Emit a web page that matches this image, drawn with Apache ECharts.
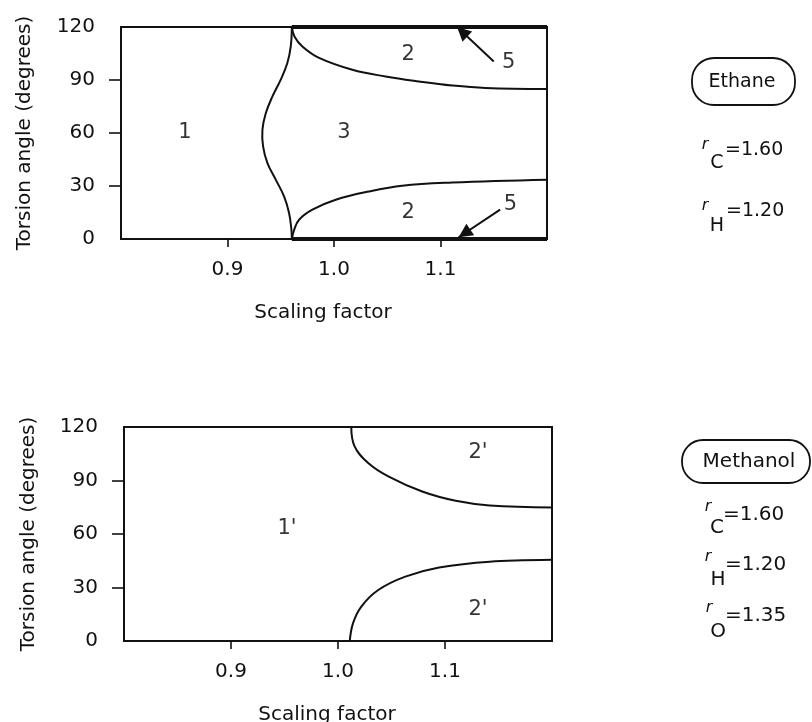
<!DOCTYPE html>
<html><head><meta charset="utf-8">
<script src="https://cdn.jsdelivr.net/npm/echarts@6/dist/echarts.min.js"></script>
<style>html,body{margin:0;padding:0;background:#fff}#c{width:812px;height:722px}</style>
</head><body><div id="c"></div>
<script>
// ---- axes ----
const xTickValues = [0.9, 1.0, 1.1];
const yLabelValues = [0, 30, 60, 90, 120];
const yTickValues = [30, 60, 90];

// ---- Ethane (top panel) ----
const ethaneBoundary13 = [[0.9604,120],[0.9594,109],[0.9562,99.6],[0.950,90.2],[0.9422,80.7],[0.936,71.3],[0.9328,61.9],[0.9334,52.4],[0.9375,43],[0.9453,33.6],[0.9531,24.1],[0.9578,14.7],[0.960,5.3],[0.9604,0]];
const ethaneUpper23 = [[0.9604,120],[0.963,114.5],[0.9703,109],[0.986,102.5],[1.0172,95.8],[1.0484,92],[1.0797,89.2],[1.1109,86.9],[1.1422,85.5],[1.2,84.9]];
const ethaneLower23 = [[0.9604,0],[0.9625,5],[0.9672,10.9],[0.9797,16.6],[1.0016,22.2],[1.0328,26.9],[1.064,30.2],[1.1109,32],[1.2,33.6]];
const ethaneRegion5Top = [[0.9604,120],[1.2,120]];
const ethaneRegion5Bottom = [[0.9604,0],[1.2,0]];
const ethaneArrowTop = [[1.150,100.5],[1.1156,120]];
const ethaneArrowBottom = [[1.156,16.6],[1.117,1]];
const ethaneRegionNames = ['1','3','2','2','5','5'];
const ethaneRegionX = [0.86,1.0094,1.0697,1.0697,1.164,1.1656];
const ethaneRegionY = [60.5,60,104.3,14.7,99.6,19.4];

// ---- Methanol (bottom panel) ----
const methanolUpper = [[1.0124,120],[1.0155,109.1],[1.0282,99.8],[1.047,92.3],[1.0787,83.8],[1.110,78.6],[1.1418,76],[1.2,74.9]];
const methanolLower = [[1.011,0],[1.014,9.9],[1.0218,19.3],[1.0376,28.6],[1.0629,36.1],[1.0945,41.2],[1.1418,44.5],[1.2,45.5]];
const methanolRegionNames = ["1'","2'","2'"];
const methanolRegionX = [0.9524,1.1308,1.1308];
const methanolRegionY = [63.3,105.4,17.4];

const FONT = 'DejaVu Sans';
const INK = '#111';
const FS = 20;

function pts(xs, ys, names){ return names.map((n,i)=>({name:n, value:[xs[i], ys[i]]})); }

function xAxisFor(gi){
  return {
    type:'value', gridIndex:gi, min:0.8, max:1.2, interval:0.1,
    axisLine:{show:false}, splitLine:{show:false},
    axisTick:{show:true, length:8, customValues:xTickValues, lineStyle:{color:INK, width:1.6}},
    axisLabel:{show:true, customValues:xTickValues, margin:21, fontFamily:FONT, fontSize:FS, color:INK,
      formatter:v=>v.toFixed(1)},
    name:'Scaling factor', nameLocation:'middle', nameGap:64,
    nameTextStyle:{fontFamily:FONT, fontSize:FS, color:INK, padding:[0,22,0,0]}
  };
}
function yAxisFor(gi, gap){
  return {
    type:'value', gridIndex:gi, min:0, max:120, interval:30,
    axisLine:{show:false}, splitLine:{show:false},
    axisTick:{show:true, length:12, customValues:yTickValues, lineStyle:{color:INK, width:1.6}},
    axisLabel:{show:true, customValues:yLabelValues, margin:26, fontFamily:FONT, fontSize:FS, color:INK, padding:[0,0,5,0]},
    name:'Torsion angle (degrees)', nameLocation:'middle', nameGap:gap,
    nameTextStyle:{fontFamily:FONT, fontSize:FS, color:INK}
  };
}
// smooth curve through the read points, positioned by the axes (api.coord)
function curve(data, gi, w){
  return {type:'custom', xAxisIndex:gi, yAxisIndex:gi, data:data, silent:true, z:3, clip:false,
    encode:{x:0, y:1},
    renderItem:function(params, api){
      if (params.dataIndex !== 0) return null;
      const p = data.map(d => api.coord(d));
      return {type:'polyline', shape:{points:p, smooth:0.4},
        style:{stroke:INK, lineWidth:w||2, fill:null, lineJoin:'round', lineCap:'round'}};
    }};
}
function straight(data, gi, w, extra){
  return Object.assign({type:'line', xAxisIndex:gi, yAxisIndex:gi, data:data, symbol:'none',
    lineStyle:{color:INK, width:w}, silent:true, z:3}, extra||{});
}
function arrow(a){ return [{coord:a[0]},{coord:a[1]}]; }
function labels(xs, ys, names, gi){
  return {type:'scatter', xAxisIndex:gi, yAxisIndex:gi, symbolSize:0, itemStyle:{color:INK},
    data:pts(xs, ys, names), silent:true, z:5,
    label:{show:true, position:'inside', formatter:'{b}', fontFamily:FONT, fontSize:21, color:'#000', textBorderWidth:0}};
}

const chart = echarts.init(document.getElementById('c'), null, {renderer:'canvas'});

const t = (x,y,text,size,extra)=>({type:'text', x:x, y:y, silent:true,
  style:Object.assign({text:text, fill:INK, font:size+'px "'+FONT+'"', align:'left', verticalAlign:'middle'}, extra||{})});
const ri = (x,y,size)=>({type:'text', x:x, y:y, silent:true,
  style:{text:'r', fill:INK, font:'italic '+size+'px "'+FONT+'"', align:'center', verticalAlign:'middle'}});

chart.setOption({
  animation:false,
  backgroundColor:'#fff',
  grid:[
    {left:121, top:27, width:426, height:212, show:true, borderColor:INK, borderWidth:2, backgroundColor:'transparent', outerBoundsMode:'none', containLabel:false},
    {left:124, top:427, width:428, height:214, show:true, borderColor:INK, borderWidth:2, backgroundColor:'transparent', outerBoundsMode:'none', containLabel:false}
  ],
  xAxis:[xAxisFor(0), xAxisFor(1)],
  yAxis:[yAxisFor(0,86), yAxisFor(1,85)],
  series:[
    curve(ethaneBoundary13,0),
    curve(ethaneUpper23,0),
    curve(ethaneLower23,0),
    straight(ethaneRegion5Top,0,4),
    straight(ethaneRegion5Bottom,0,4,{markLine:{
      silent:true, animation:false, symbol:['none','triangle'], symbolSize:14, symbolOffset:[0,[0,7]],
      label:{show:false}, lineStyle:{type:'solid', color:INK, width:2},
      itemStyle:{color:INK},
      data:[arrow(ethaneArrowTop), arrow(ethaneArrowBottom)]}}),
    labels(ethaneRegionX, ethaneRegionY, ethaneRegionNames, 0),
    curve(methanolUpper,1),
    curve(methanolLower,1),
    labels(methanolRegionX, methanolRegionY, methanolRegionNames, 1)
  ],
  graphic:[
    {type:'rect', shape:{x:692, y:58, width:103, height:47, r:22}, style:{fill:'none', stroke:INK, lineWidth:1.8}},
    t(742,82,'Ethane',19,{align:'center'}),
    ri(705,145,16), t(717,163,'C',19,{align:'center'}), t(725,150,'=1.60',19),
    ri(705,206,16), t(717,226,'H',19,{align:'center'}), t(726,211,'=1.20',19),

    {type:'rect', shape:{x:682, y:440, width:128, height:43, r:21}, style:{fill:'none', stroke:INK, lineWidth:1.8}},
    t(749,462,'Methanol',20,{align:'center'}),
    ri(708,507,16), t(717,528,'C',20,{align:'center'}), t(723,515,'=1.60',20),
    ri(708,557,16), t(718,580,'H',20,{align:'center'}), t(725,565,'=1.20',20),
    ri(709,608,16), t(718,632,'O',20,{align:'center'}), t(725,616,'=1.35',20)
  ]
});
</script></body></html>
